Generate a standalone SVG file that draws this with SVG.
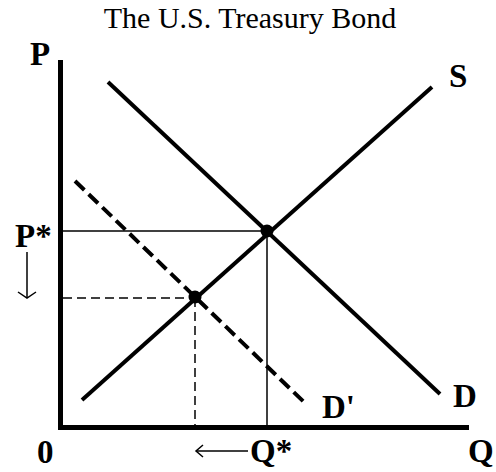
<svg xmlns="http://www.w3.org/2000/svg" width="496" height="472" viewBox="0 0 496 472">
<style>
.lbl{font-family:"Liberation Serif","Times New Roman",serif;font-weight:bold;font-size:33px;fill:#000}
.title{font-family:"Liberation Serif","Times New Roman",serif;font-size:30px;fill:#000}
.thick{stroke:#000;stroke-width:4;fill:none}
.axis{stroke:#000;stroke-width:5;fill:none}
.thin{stroke:#000;stroke-width:1.5;fill:none}
.dash{stroke:#000;stroke-width:1.5;fill:none;stroke-dasharray:9,5}
.thickdash{stroke:#000;stroke-width:4;fill:none;stroke-dasharray:13,6}
</style>
<rect width="496" height="472" fill="#fff"/>
<text class="title" x="250" y="28" text-anchor="middle">The U.S. Treasury Bond</text>
<g id="axes">
<line class="axis" x1="60.5" y1="60" x2="60.5" y2="430"/>
<line class="axis" x1="58" y1="427.5" x2="469" y2="427.5"/>
</g>
<g id="connectors">
<line id="supply" class="thick" x1="82" y1="400" x2="432" y2="87"/>
<line id="demand" class="thick" x1="108" y1="82" x2="440" y2="394"/>
<line id="demand2" class="thickdash" x1="75" y1="181" x2="306" y2="404"/>
<line class="thin" x1="63" y1="231" x2="267" y2="231"/>
<line class="thin" x1="267" y1="231" x2="267" y2="428"/>
<line class="dash" x1="63" y1="298" x2="195" y2="298"/>
<line class="dash" x1="195" y1="298" x2="195" y2="428"/>
<line class="thin" x1="27" y1="252" x2="27" y2="298"/>
<polyline class="thin" points="18,292 27,298 36,292"/>
<line class="thin" x1="196" y1="451" x2="248" y2="451"/>
<polyline class="thin" points="203,445 196,451 203,457"/>
</g>
<g id="eq1"><circle cx="267" cy="231" r="6.5" fill="#000"/></g>
<g id="eq2"><circle cx="195" cy="297" r="6.5" fill="#000"/></g>
<g id="labels">
<text class="lbl" x="30" y="65">P</text>
<text class="lbl" x="449" y="87">S</text>
<text class="lbl" x="15" y="247">P*</text>
<text class="lbl" x="322" y="418">D'</text>
<text class="lbl" x="453" y="407">D</text>
<text class="lbl" x="37" y="463">0</text>
<text class="lbl" x="250" y="462">Q*</text>
<text class="lbl" x="468" y="462">Q</text>
</g>
</svg>
